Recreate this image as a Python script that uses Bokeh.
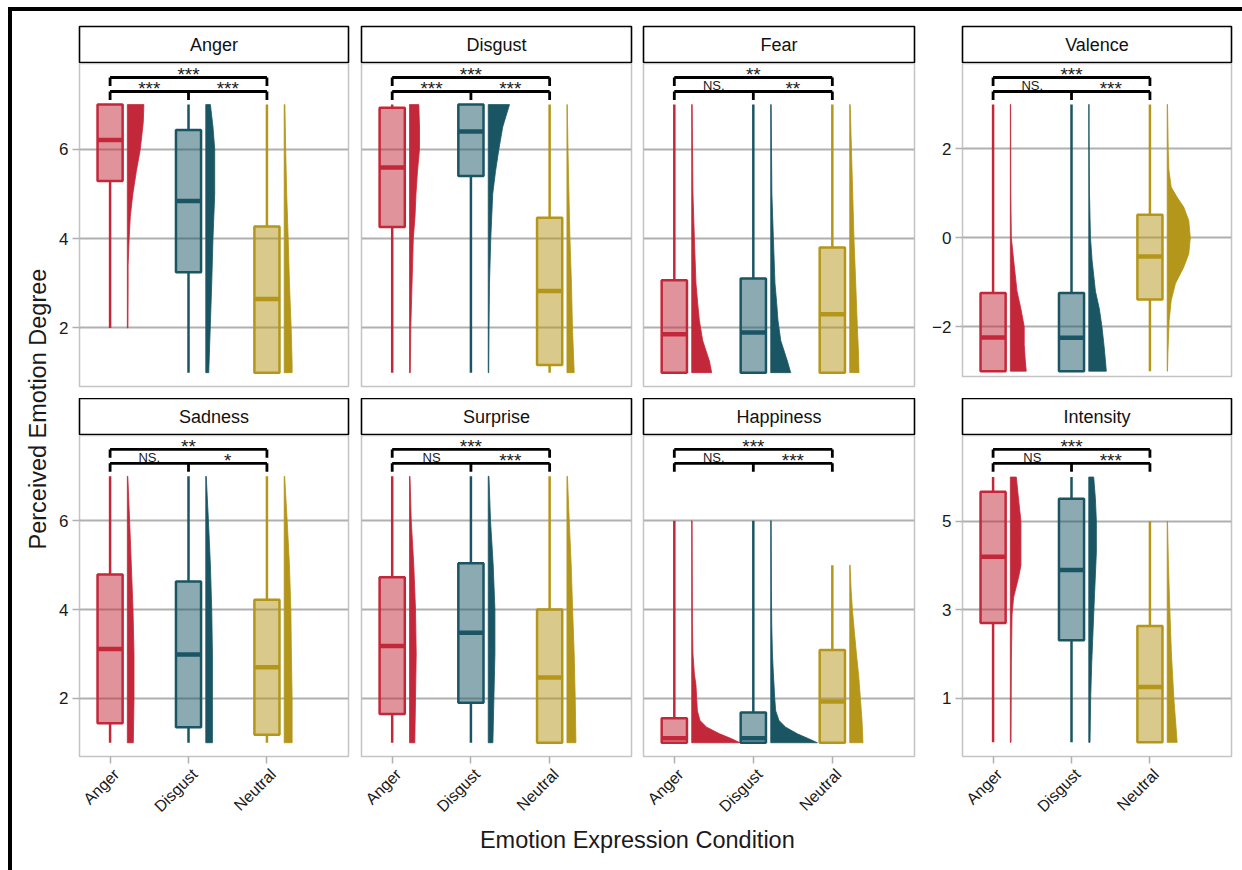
import math
from bokeh.plotting import figure
from bokeh.layouts import row, column
from bokeh.models import Range1d, FixedTicker, Spacer
from bokeh.embed import file_html
from bokeh.resources import INLINE
from bokeh.core.properties import value

FONT = "Liberation Sans"

# ---------------- data ----------------
PANELS = ["Anger", "Disgust", "Fear", "Valence", "Sadness", "Surprise", "Happiness", "Intensity"]
CONDITIONS = ["Anger", "Disgust", "Neutral"]
COND_POS = [1, 2, 3]

Y_TICKS = [[2, 4, 6], [2, 4, 6], [2, 4, 6], [-2, 0, 2],
           [2, 4, 6], [2, 4, 6], [2, 4, 6], [1, 3, 5]]

BOX_LOW = [[2, 1, 1], [1, 1, 1], [1, 1, 1], [-3, -3, -3],
           [1, 1, 1], [1, 1, 1], [1, 1, 1], [0, 0, 0]]
BOX_Q1 = [[5.29, 3.25, 1.0], [4.26, 5.40, 1.17], [1.0, 1.0, 1.0], [-3.0, -3.0, -1.39],
          [1.44, 1.35, 1.18], [1.65, 1.90, 1.0], [1.0, 1.0, 1.0], [2.70, 2.31, 0.0]]
BOX_MED = [[6.21, 4.84, 2.65], [5.59, 6.40, 2.83], [1.86, 1.90, 2.31], [-2.24, -2.25, -0.42],
           [3.11, 2.99, 2.70], [3.18, 3.48, 2.47], [1.10, 1.10, 1.93], [4.20, 3.90, 1.25]]
BOX_Q3 = [[7.0, 6.43, 4.27], [6.93, 7.0, 4.47], [3.07, 3.11, 3.80], [-1.24, -1.24, 0.52],
          [4.79, 4.63, 4.22], [4.73, 5.04, 4.00], [1.55, 1.68, 3.09], [5.67, 5.51, 2.63]]
BOX_HIGH = [[7, 7, 7], [7, 7, 7], [7, 7, 7], [3, 3, 3],
            [7, 7, 7], [7, 7, 7], [6, 6, 5], [6, 6, 5]]

SIG_LEFT = ["***", "***", "NS.", "NS.", "NS.", "NS", "NS.", "NS"]
SIG_RIGHT = ["***", "***", "**", "***", "*", "***", "***", "***"]
SIG_TOP = ["***", "***", "**", "***", "**", "***", "***", "***"]

# half-violin profiles: (rating, half-width in x-axis units), one list per condition
VIOLIN_ANGER = [
    [(2, 0.008), (3, 0.010), (3.4, 0.010), (4, 0.023), (4.5, 0.038), (5, 0.070), (5.5, 0.114), (6, 0.165), (6.6, 0.203), (7, 0.211)],
    [(1, 0.038), (2, 0.057), (3, 0.076), (4, 0.092), (5, 0.114), (6, 0.114), (6.5, 0.092), (7, 0.059)],
    [(1, 0.101), (1.2, 0.101), (2, 0.089), (3, 0.067), (4, 0.051), (5, 0.032), (6, 0.019), (7, 0.009)],
]
VIOLIN_DISGUST = [
    [(1, 0.010), (2, 0.016), (3, 0.032), (4, 0.048), (4.5, 0.070), (5, 0.082), (5.5, 0.101), (6, 0.127), (6.5, 0.127), (7, 0.118)],
    [(1, 0.006), (2, 0.010), (3, 0.016), (4, 0.032), (5, 0.057), (5.5, 0.092), (6, 0.135), (6.5, 0.184), (7, 0.270)],
    [(1, 0.092), (2, 0.070), (3, 0.057), (4, 0.038), (5, 0.025), (6, 0.013), (7, 0.004)],
]
VIOLIN_FEAR = [
    [(1, 0.253), (1.26, 0.224), (1.72, 0.139), (2.17, 0.097), (2.55, 0.076), (3, 0.054), (4, 0.034), (5, 0.016), (6, 0.010), (7, 0.006)],
    [(1, 0.253), (1.26, 0.211), (1.72, 0.127), (2.17, 0.092), (2.55, 0.076), (3, 0.054), (4, 0.034), (5, 0.015), (6, 0.010), (7, 0.006)],
    [(1, 0.118), (1.5, 0.110), (2, 0.097), (3, 0.076), (4, 0.054), (5, 0.038), (6, 0.022), (7, 0.006)],
]
VIOLIN_VALENCE = [
    [(-3, 0.203), (-2.75, 0.190), (-2.4, 0.177), (-2, 0.177), (-1.6, 0.135), (-1.2, 0.085), (-0.5, 0.042), (0, 0.013), (1, 0.006), (3, 0.004)],
    [(-3, 0.224), (-2.5, 0.199), (-2, 0.168), (-1.6, 0.135), (-1.2, 0.085), (-0.5, 0.042), (0, 0.022), (1, 0.009), (2.4, 0.004), (3, 0.004)],
    [(-3, 0.004), (-2.6, 0.009), (-1.86, 0.025), (-1.41, 0.051), (-1.03, 0.105), (-0.66, 0.211), (-0.36, 0.275), (0, 0.295),
     (0.39, 0.275), (0.69, 0.211), (0.91, 0.127), (1.14, 0.051), (1.52, 0.022), (2, 0.013), (3, 0.004)],
]
VIOLIN_SADNESS = [
    [(1, 0.076), (2, 0.085), (3, 0.085), (4, 0.072), (5, 0.051), (6, 0.029), (7, 0.006)],
    [(1, 0.085), (2, 0.085), (3, 0.085), (4, 0.076), (5, 0.059), (6, 0.034), (7, 0.006)],
    [(1, 0.101), (2, 0.101), (3, 0.092), (4, 0.085), (5, 0.067), (6, 0.038), (7, 0.006)],
]
VIOLIN_SURPRISE = [
    [(1, 0.067), (2, 0.076), (3, 0.085), (4, 0.076), (5, 0.054), (6, 0.022), (7, 0.006)],
    [(1, 0.059), (2, 0.072), (3, 0.085), (4, 0.085), (5, 0.063), (6, 0.029), (7, 0.009)],
    [(1, 0.114), (2, 0.105), (3, 0.092), (4, 0.072), (5, 0.054), (6, 0.029), (7, 0.006)],
]
VIOLIN_HAPPINESS = [
    [(1, 0.611), (1.09, 0.506), (1.2, 0.354), (1.35, 0.190), (1.5, 0.105), (1.72, 0.072), (2, 0.063), (2.3, 0.054),
     (2.55, 0.034), (3, 0.016), (3.66, 0.009), (6, 0.005)],
    [(1, 0.591), (1.09, 0.481), (1.2, 0.338), (1.35, 0.190), (1.5, 0.105), (1.72, 0.063), (2, 0.051), (2.3, 0.042),
     (2.55, 0.034), (3, 0.022), (3.66, 0.013), (4.5, 0.009), (6, 0.006)],
    [(1, 0.168), (1.5, 0.156), (2, 0.135), (2.5, 0.114), (3, 0.085), (3.5, 0.059), (4, 0.034), (4.5, 0.016), (5, 0.005)],
]
VIOLIN_INTENSITY = [
    [(0, 0.009), (1.8, 0.013), (2.9, 0.022), (3.28, 0.042), (3.73, 0.105), (4, 0.135), (4.5, 0.135), (5, 0.135), (5.5, 0.105), (6, 0.076)],
    [(0, 0.016), (1.05, 0.025), (1.8, 0.038), (2.5, 0.054), (3.28, 0.072), (3.8, 0.085), (4.3, 0.097), (5, 0.097), (5.5, 0.085), (6, 0.063)],
    [(0, 0.127), (1, 0.085), (2, 0.054), (3, 0.034), (4, 0.016), (5, 0.004)],
]
VIOLINS = [VIOLIN_ANGER, VIOLIN_DISGUST, VIOLIN_FEAR, VIOLIN_VALENCE,
           VIOLIN_SADNESS, VIOLIN_SURPRISE, VIOLIN_HAPPINESS, VIOLIN_INTENSITY]

# ---------------- style ----------------
COLORS = ["#C3283A", "#1A5564", "#B4961A"]
GRID = "#B0B0B0"
BORDER = "#C4C4C4"
TEXT = "#1A1A1A"
X_LO, X_HI = 0.61, 4.04
BOX_HALF = 0.16
VIO_OFF = 0.22
LABEL_SHIFT = 0.08   # rotated tick labels hang slightly right of their tick mark

Y_RANGES = [(0.69, 7.92)] * 3 + [(-3.12, 3.92)] + [(0.69, 7.92)] * 3 + [(-0.32, 6.94)]


def base_fig(width, height, lb, rb, tb, bb, xr, yr, axes=True):
    kw = {}
    if not axes:
        kw = dict(x_axis_type=None, y_axis_type=None)
    f = figure(width=width, height=height, x_range=xr, y_range=yr,
               output_backend="svg", toolbar_location=None,
               min_border=0, min_border_left=lb, min_border_right=rb,
               min_border_top=tb, min_border_bottom=bb, **kw)
    f.background_fill_color = "white"
    f.border_fill_color = "white"
    return f


def make_panel(k, frame_w, frame_h, lb, rb, tb, bb, show_y, show_x):
    ylo, yhi = Y_RANGES[k]
    p = base_fig(lb + frame_w + rb, tb + frame_h + bb, lb, rb, tb, bb,
                 Range1d(X_LO, X_HI), Range1d(ylo, yhi))
    p.outline_line_color = BORDER
    p.outline_line_width = 1.5
    p.xgrid.visible = False
    p.ygrid.ticker = FixedTicker(ticks=Y_TICKS[k])
    p.ygrid.grid_line_color = GRID
    p.ygrid.grid_line_width = 2

    # y axis
    p.yaxis.ticker = FixedTicker(ticks=Y_TICKS[k])
    p.yaxis.axis_line_color = None
    p.yaxis.major_tick_line_color = GRID
    p.yaxis.major_tick_line_width = 1.5
    p.yaxis.major_tick_out = 7
    p.yaxis.major_tick_in = 0
    p.yaxis.minor_tick_line_color = None
    p.yaxis.major_label_text_font = FONT
    p.yaxis.major_label_text_font_size = "17px"
    p.yaxis.major_label_text_color = TEXT
    p.yaxis.major_label_standoff = 4
    p.yaxis.visible = show_y

    # x axis: labels on (slightly shifted) major ticks, tick marks drawn as minor ticks at the categories
    lab_pos = [round(c + LABEL_SHIFT, 3) for c in COND_POS]
    p.xaxis.ticker = FixedTicker(ticks=lab_pos, minor_ticks=COND_POS)
    p.xaxis.major_label_overrides = dict(zip(lab_pos, CONDITIONS))
    p.xaxis.major_label_orientation = math.pi / 4
    p.xaxis.axis_line_color = None
    p.xaxis.major_tick_line_color = None
    p.xaxis.major_tick_out = 7
    p.xaxis.major_tick_in = 0
    p.xaxis.minor_tick_line_color = GRID
    p.xaxis.minor_tick_line_width = 1.5
    p.xaxis.minor_tick_out = 7
    p.xaxis.minor_tick_in = 0
    p.xaxis.major_label_text_font = FONT
    p.xaxis.major_label_text_font_size = "16px"
    p.xaxis.major_label_text_color = TEXT
    p.xaxis.major_label_standoff = 8
    p.xaxis.visible = show_x

    # half violins
    xs, ys = [], []
    for c, prof in zip(COND_POS, VIOLINS[k]):
        x0 = c + VIO_OFF
        yv = [pt[0] for pt in prof]
        wv = [pt[1] for pt in prof]
        xs.append([x0] + [x0 + w for w in wv] + [x0])
        ys.append([yv[0]] + yv + [yv[-1]])
    p.patches(xs=xs, ys=ys, fill_color=COLORS, line_color=COLORS, line_width=0.8)

    # whiskers
    p.segment(x0=COND_POS, y0=BOX_LOW[k], x1=COND_POS, y1=BOX_Q1[k], line_color=COLORS, line_width=2.5)
    p.segment(x0=COND_POS, y0=BOX_Q3[k], x1=COND_POS, y1=BOX_HIGH[k], line_color=COLORS, line_width=2.5)
    # boxes
    p.quad(left=[c - BOX_HALF for c in COND_POS], right=[c + BOX_HALF for c in COND_POS],
           bottom=BOX_Q1[k], top=BOX_Q3[k], fill_color=COLORS, fill_alpha=0.5,
           line_color=COLORS, line_width=2.5)
    # medians
    p.segment(x0=[c - BOX_HALF for c in COND_POS], y0=BOX_MED[k],
              x1=[c + BOX_HALF for c in COND_POS], y1=BOX_MED[k],
              line_color=COLORS, line_width=4.5)

    # significance brackets
    unit = (yhi - ylo) / frame_h
    yt = yhi - 14 * unit
    yl = yhi - 28 * unit
    leg = 8.5 * unit
    a, b, c3 = COND_POS
    p.segment(x0=[a, a, c3, a, a, b, c3],
              y0=[yt, yt, yt, yl, yl, yl, yl],
              x1=[c3, a, c3, c3, a, b, c3],
              y1=[yt, yt - leg, yt - leg, yl, yl - leg, yl - leg, yl - leg],
              line_color="black", line_width=2.8)
    labels = [(SIG_LEFT[k], (a + b) / 2, yl), (SIG_RIGHT[k], (b + c3) / 2, yl), (SIG_TOP[k], b, yt)]
    for txt, lx, ly in labels:
        if txt.startswith("*"):
            p.text(x=[lx], y=[ly + 3.2 * unit], text=[txt], text_align="center",
                   text_baseline="middle", text_font=value(FONT),
                   text_font_size="19px", text_color=TEXT)
        else:
            p.text(x=[lx], y=[ly + 6.2 * unit], text=[txt], text_align="center",
                   text_baseline="middle", text_font=value(FONT),
                   text_font_size="13px", text_color=TEXT)
    return p


def make_strip(name, frame_w, frame_h, lb, rb, tb, bb):
    s = base_fig(lb + frame_w + rb, tb + frame_h + bb, lb, rb, tb, bb,
                 Range1d(0, 1), Range1d(0, 1), axes=False)
    s.outline_line_color = "black"
    s.outline_line_width = 1.6
    s.text(x=[0.5], y=[0.5], text=[name], text_align="center", text_baseline="middle",
           text_font=value(FONT), text_font_size="18px", text_color="#111111")
    return s


# column geometry: (left border, frame width, right border, y visible)
COLS = [(22, 270, 6, True), (7, 270, 6, False), (6, 271, 6, False), (42, 269, 11, True)]

cols = []
for ci, (lb, fw, rb, showy) in enumerate(COLS):
    k1, k2 = ci, ci + 4
    s1 = make_strip(PANELS[k1], fw, 36, lb, rb, 15, 1)
    if ci == 3:
        p1 = make_panel(k1, fw, 313, lb, rb, 0, 22, showy, False)
    else:
        p1 = make_panel(k1, fw, 323, lb, rb, 0, 12, showy, False)
    s2 = make_strip(PANELS[k2], fw, 36, lb, rb, 0, 1)
    p2 = make_panel(k2, fw, 323, lb, rb, 0, 66, showy, True)
    cols.append(column(s1, p1, s2, p2, spacing=0))

# y-axis title
lf = base_fig(44, 813, 0, 0, 0, 0, Range1d(0, 1), Range1d(0, 1), axes=False)
lf.outline_line_color = None
lf.text(x=[0.57], y=[0.511], text=["Perceived Emotion Degree"], angle=math.pi / 2,
        text_align="center", text_baseline="middle", text_font=value(FONT),
        text_font_size="23.5px", text_color=TEXT)

# x-axis title
bf = base_fig(1230, 46, 0, 0, 0, 0, Range1d(0, 1), Range1d(0, 1), axes=False)
bf.outline_line_color = None
bf.text(x=[0.508], y=[0.66], text=["Emotion Expression Condition"],
        text_align="center", text_baseline="middle", text_font=value(FONT),
        text_font_size="23.5px", text_color=TEXT)

black = {"background-color": "black"}
inner = column(Spacer(width=1230, height=4, styles=black),
               row(lf, *cols, spacing=0), bf, spacing=0)
page = column(Spacer(width=1242, height=7),
              row(Spacer(width=8, height=863), Spacer(width=4, height=863, styles=black),
                  inner, spacing=0),
              spacing=0)

open("out.html", "w").write(file_html(page, INLINE))
